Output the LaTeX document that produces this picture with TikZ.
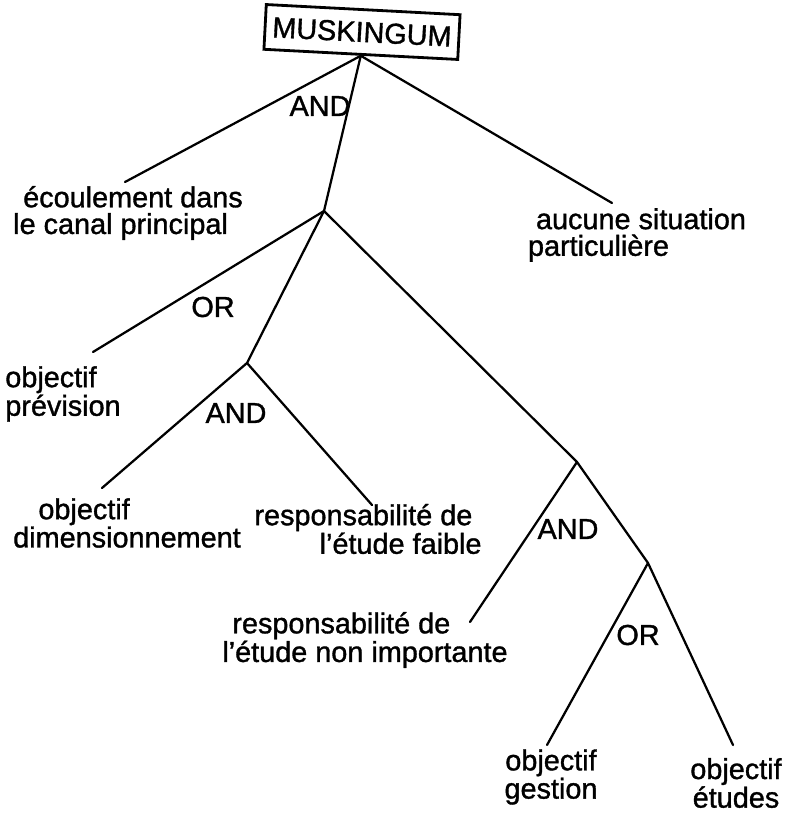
\documentclass[tikz,border=0pt]{standalone}
\usepackage{fontspec}
\setmainfont{Liberation Sans}[FakeBold=1.2]
\usetikzlibrary{positioning}

\begin{document}
\begin{tikzpicture}[
    x=0.025cm, y=-0.025cm,
    every node/.style={font=\fontsize{20.5}{19}\selectfont},
    branch/.style={line width=1.6pt, line cap=round},
    rootbox/.style={draw, line width=2pt, minimum width=4.85cm, minimum height=1.12cm, inner sep=0pt, rotate=-3},
    leaf/.style={inner sep=0pt, align=left},
    gate/.style={inner sep=0pt},
]
\useasboundingbox (0,0) rectangle (797,813);

% Root of the tree (tilted box)
\node[rootbox] (root) at (362,32) {MUSKINGUM};

% Branching points: (n1) under the root, (n2) .. (n4) further down
\coordinate (n1) at (324,211);
\coordinate (n2) at (247,363);
\coordinate (n3) at (577,462);
\coordinate (n4) at (648,563);

% Free ends of the branches, just above each leaf text
\coordinate (ecoul) at (125,182);
\coordinate (aucune) at (612,203);
\coordinate (prev) at (93,352);
\coordinate (dimen) at (102,488);
\coordinate (faible) at (372,505);
\coordinate (nonimp) at (470,622);
\coordinate (gest) at (547,745);
\coordinate (etud) at (733,745);

% Branches
\draw[branch] (root.south) -- (ecoul);
\draw[branch] (root.south) -- (n1);
\draw[branch] (root.south) -- (aucune);
\draw[branch] (n1) -- (prev);
\draw[branch] (n1) -- (n2);
\draw[branch] (n1) -- (n3);
\draw[branch] (n2) -- (dimen);
\draw[branch] (n2) -- (faible);
\draw[branch] (n3) -- (nonimp);
\draw[branch] (n3) -- (n4);
\draw[branch] (n4) -- (gest);
\draw[branch] (n4) -- (etud);

% Gate labels
\node[gate] (and1) at (320,106) {AND};
\node[gate] (or1) at (213,307) {OR};
\node[gate] (and2) at (236,413) {AND};
\node[gate] (and3) at (568,529) {AND};
\node[gate] (or2) at (638,635) {OR};

% Leaf texts
\node[leaf] (t-ecoul) at (128,213) {\hspace*{0.25cm}écoulement dans\\le canal principal};
\node[leaf] (t-aucune) at (637,235) {\hspace*{0.2cm}aucune situation\\particulière};
\node[leaf] (t-prev) at (63,394) {objectif\\prévision};
\node[leaf] (t-dimen) at (127,523) {\hspace*{0.63cm}objectif\\dimensionnement};
\node[leaf] (t-faible) at (368,529) {responsabilité de\\\hspace*{1.63cm}l'étude faible};
\node[leaf] (t-nonimp) at (365,640) {\hspace*{0.25cm}responsabilité de\\l'étude non importante};
\node[leaf, align=center] (t-gest) at (551,777) {objectif\\gestion};
\node[leaf, align=center] (t-etud) at (736,783) {objectif\\études};
\end{tikzpicture}
\end{document}
